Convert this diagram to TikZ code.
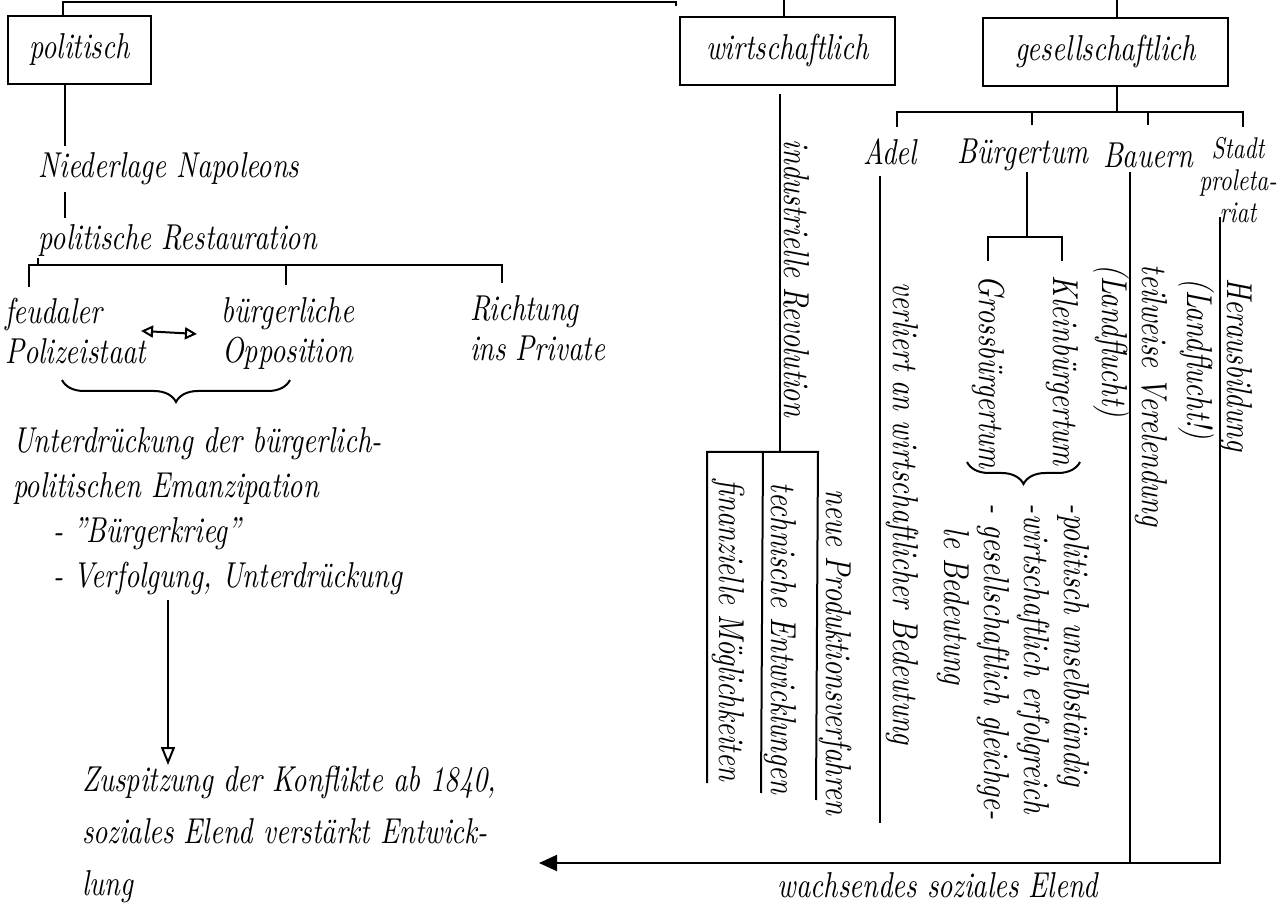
\documentclass[tikz,border=0pt]{standalone}
\usepackage{fontspec}
\setmainfont{lmroman10-regular.otf}[ItalicFont=lmroman10-italic.otf,BoldFont=lmroman10-bold.otf,FakeStretch=0.78]
\usetikzlibrary{arrows.meta,decorations.pathreplacing}

\tikzset{
  schrift/.style={font=\itshape\fontsize{18}{#1}\selectfont},
  schrift/.default=20pt,
  kasten/.style={draw,minimum height=34pt},
  quer/.style={rotate=-90,anchor=west},
  klammer/.style={decorate,decoration={brace,mirror,amplitude=11pt}},
  offen/.style={-{Triangle[open,length=9pt,width=7pt]}},
  doppel/.style={{Triangle[open,length=6pt,width=6pt]}-{Triangle[open,length=6pt,width=6pt]}},
  voll/.style={-{Triangle[length=9pt,width=8pt]}}
}

\begin{document}
\begin{tikzpicture}[x=0.5pt,y=-0.5pt,line width=1pt,every node/.style={schrift,inner sep=0pt}]
\useasboundingbox (0,0) rectangle (1286,903);

\node[kasten,minimum width=71.5pt] (polit) at (79.5,50) {politisch};
\node[kasten,minimum width=107.5pt] (wirt) at (787.5,51) {wirtschaftlich};
\node[kasten,minimum width=122.5pt] (gesell) at (1105.5,52) {gesellschaftlich};
\draw (polit.north west) ++(56,0) |- (676,2) -- ++(0,4);
\draw ([xshift=-2pt]wirt.north) -- ++(0,-17);
\draw ([xshift=5.75pt]gesell.north) -- ++(0,-17);

% politisch
\node[anchor=base west] (nieder) at (38,178) {Niederlage Napoleons};
\node[anchor=base west] (restaur) at (38,250) {politische Restauration};
\draw[shorten >=3pt] (polit.south west) ++(58,0) coordinate (p1) -- (p1 |- nieder.north);
\draw[shorten <=3pt,shorten >=3pt] (p1 |- nieder.south) -- (p1 |- restaur.north);
\coordinate (rbar) at (29,265);
\draw (restaur.south west) -- (restaur.south west |- rbar);
\draw (29,287) |- (502,265) -- ++(0,18);
\draw (286,265) -- ++(0,20);
\node[align=left,anchor=north west] (feud) at (4,297) {feudaler\\Polizeistaat};
\node[align=center,anchor=north] (oppos) at (288,297) {bürgerliche\\Opposition};
\node[align=left,anchor=north west] (richt) at (469,295) {Richtung\\ins Private};
\draw[doppel] ([xshift=-3pt]feud.east) -- ([xshift=-12pt]oppos.west);
\draw[klammer] (62,380) -- (290,380);
\node[schrift=22.5pt,align=left,anchor=north west] (unterd) at (12,427)
  {Unterdrückung der bürgerlich-\\politischen Emanzipation\\\hspace*{20pt}- "Bürgerkrieg"\\\hspace*{20pt}- Verfolgung, Unterdrückung};
\node[schrift=26pt,align=left,anchor=north west] (zusp) at (81,765)
  {Zuspitzung der Konflikte ab 1840,\\soziales Elend verstärkt Entwick-\\lung};
\coordinate (u1) at (168,600);
\draw[offen] (u1) -- (u1 |- zusp.north);

% wirtschaftlich
\node[quer] (indrev) at (797,139) {industrielle Revolution};
\coordinate (wbar) at (780,452);
\draw ([xshift=-3.75pt]wirt.south) ++(0,8) -- (wbar);
\draw (707,783) |- (818,452) -- (816,800);
\draw (763,452) -- (761,793);
\node[quer] (finanz) at (728,479) {finanzielle Möglichkeiten};
\node[quer] (technik) at (780,482) {technische Entwicklungen};
\node[quer] (produkt) at (835,489) {neue Produktionsverfahren};

% gesellschaftlich
\draw ([xshift=5.75pt]gesell.south) -- ++(0,25);
\draw (897,127) |- (1243,112) -- ++(0,15);
\draw (1032,112) -- ++(0,13) (1148,112) -- ++(0,13);
\node (adel) at (890,152) {Adel};
\node (buerger) at (1023,155) {Bürgertum};
\node (bauern) at (1148,155) {Bauern};
\node[font=\itshape\fontsize{15}{16}\selectfont,align=center,anchor=north] (stadt) at (1238,136) {Stadt\\proleta-\\riat};

\coordinate (bk) at (1027,237);
\draw (buerger.south -| bk) -- (bk);
\draw (988,261) |- (1062,237) -- ++(0,24);
\node[quer] (gross) at (988,275) {Grossbürgertum};
\node[quer] (klein) at (1062,275) {Kleinbürgertum};
\draw[klammer] (967,462) -- (1080,462);
\node[quer,anchor=north west,align=left] (bliste) at (1090,503)
  {-politisch unselbständig\\-wirtschaftlich erfolgreich\\- gesellschaftlich gleichge-\\\hspace*{12pt}le Bedeutung};

\coordinate (aende) at (880,823);
\draw (adel.south -| aende) ++(0,10) -- (aende);
\node[quer] (verliert) at (902,282) {verliert an wirtschaftlicher Bedeutung};

\coordinate (spitze) at (539,863);
\draw ([xshift=-9pt]bauern.south) ++(0,4) coordinate (b1) -- (b1 |- spitze);
\node[quer,anchor=north west,align=left] (bliste2) at (1168,264) {teilweise Verelendung\\(Landflucht)};
\draw[voll] ([xshift=-9pt]stadt.south) ++(0,-6) |- (spitze);
\node[quer,anchor=north west,align=left] (sliste) at (1253,278) {Herausbildung\\(Landflucht!)};
\node (elend) at (938,885) {wachsendes soziales Elend};
\end{tikzpicture}
\end{document}
